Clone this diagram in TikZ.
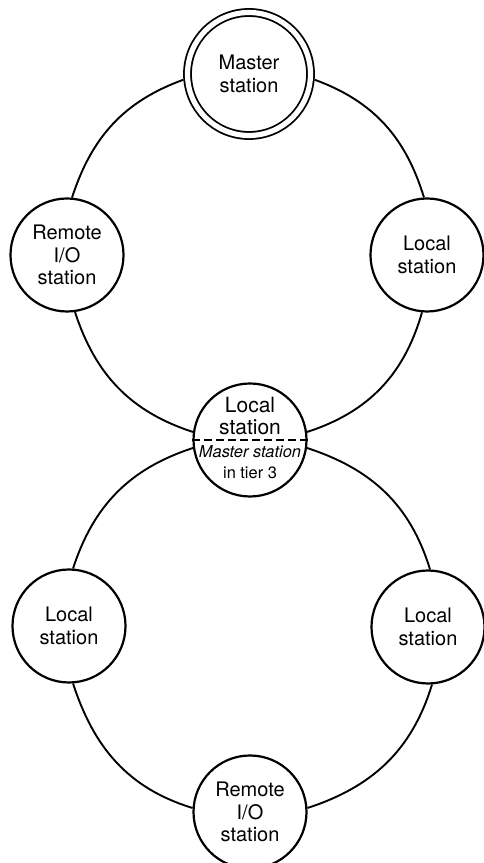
\documentclass[tikz,border=0pt]{standalone}
\usepackage{fontspec}
\setmainfont{TeX Gyre Heros}
\usetikzlibrary{calc}

\begin{document}
\begin{tikzpicture}[x=0.5pt,y=0.5pt,
    station/.style={circle,draw,line width=1.1pt,minimum size=56.5pt,inner sep=0pt,
      align=center,font=\fontsize{10}{11.3}\selectfont},
    masterst/.style={station,line width=0.9pt,double,double distance=2.6pt,
      minimum size=61.5pt,outer sep=2.2pt},
    link/.style={line width=0.95pt}]
    \useasboundingbox (0,0) rectangle (483,863);

    % upper ring
    \node[masterst] (Master) at (249,789) {Master\\station};
    \node[station] (RemA) at (67,608) {Remote\\I/O\\station};
    \node[station] (LocA) at (427,608) {Local\\station};

    % shared station
    \node[station] (Mid) at (250,423) {};
    \node[anchor=south,inner sep=0pt,align=center,font=\fontsize{10.5}{11}\selectfont]
         (MidTop) at ([yshift=2.5pt]Mid.center) {Local\\station};
    \node[anchor=north,inner sep=0pt,align=center,font=\fontsize{8.2}{10.5}\selectfont]
         (MidBot) at ([yshift=-2.7pt]Mid.center) {\textit{Master station}\\in tier 3};
    \draw[line width=1pt,dash pattern=on 4pt off 2pt] (Mid.west) -- (Mid.east);

    % lower ring
    \node[station] (LocB) at (69,237) {Local\\station};
    \node[station] (LocC) at (428,236) {Local\\station};
    \node[station] (RemB) at (250,51) {Remote\\I/O\\station};

    \draw[link] (Master.185) to[out=200,in=72] (RemA.85);
    \draw[link] (RemA.-82) to[out=-72,in=162] (Mid.172);
    \draw[link] (Mid.8) to[out=18,in=-106] (LocA.-95);
    \draw[link] (LocA.93) to[out=107,in=-20] (Master.355);

    \draw[link] (Mid.188) to[out=198,in=72] (LocB.86);
    \draw[link] (LocB.-86) to[out=-72,in=163] (RemB.176);
    \draw[link] (RemB.4) to[out=18,in=-107] (LocC.-86);
    \draw[link] (LocC.88) to[out=107,in=-18] (Mid.352);
\end{tikzpicture}
\end{document}
